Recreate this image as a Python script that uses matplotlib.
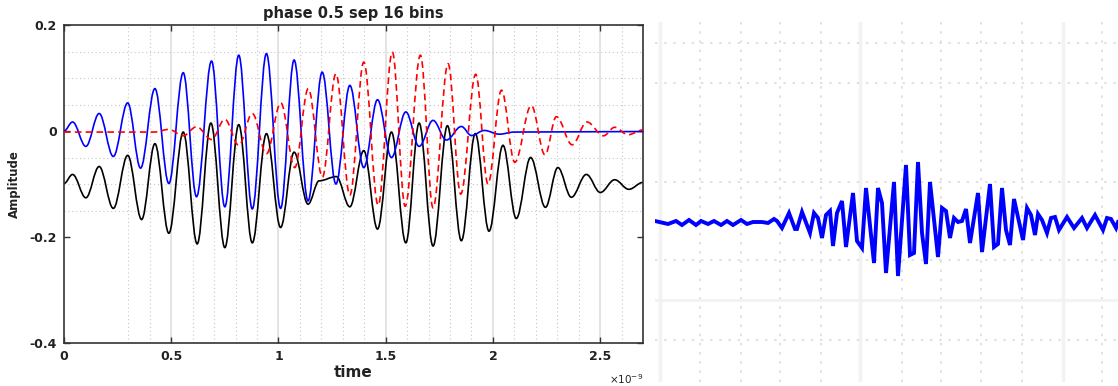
import numpy as np
import matplotlib
matplotlib.use("Agg")
import matplotlib.pyplot as plt
from matplotlib.path import Path
from matplotlib.patches import PathPatch

# ---------------- data ----------------
title = "phase 0.5 sep 16 bins"
x_label = "time"
y_label = "Amplitude"
x_ticks = [0, 0.5, 1, 1.5, 2, 2.5]
x_tick_labels = ["0", "0.5", "1", "1.5", "2", "2.5"]
y_ticks = [-0.4, -0.2, 0, 0.2]
y_tick_labels = ["-0.4", "-0.2", "0", "0.2"]

# blue solid pulse (time in units of 1e-9 s): extrema
blue_t = [0.0, 0.040, 0.102, 0.164, 0.230, 0.297, 0.357, 0.424, 0.489, 0.556,
          0.618, 0.688, 0.750, 0.815, 0.878, 0.944, 1.010, 1.073, 1.138, 1.204,
          1.268, 1.333, 1.398, 1.462, 1.527, 1.594, 1.656, 1.721, 1.783, 1.853,
          1.900, 1.960, 2.030, 2.100, 2.700]
blue_v = [0.0, 0.017, -0.029, 0.033, -0.048, 0.053, -0.070, 0.080, -0.099, 0.110,
          -0.124, 0.132, -0.143, 0.143, -0.147, 0.146, -0.146, 0.134, -0.132, 0.111,
          -0.100, 0.086, -0.069, 0.059, -0.050, 0.036, -0.029, 0.020, -0.017, 0.0085,
          -0.0085, 0.001, -0.006, -0.002, -0.001]

# red dashed pulse: extrema
red_t = [0.0, 0.420, 0.489, 0.556, 0.618, 0.688, 0.750, 0.815, 0.878, 0.944,
         1.011, 1.076, 1.139, 1.205, 1.268, 1.333, 1.398, 1.465, 1.531, 1.591,
         1.662, 1.721, 1.791, 1.850, 1.920, 1.977, 2.040, 2.102, 2.179, 2.243,
         2.296, 2.370, 2.438, 2.516, 2.568, 2.630, 2.700]
red_v = [-0.002, -0.002, 0.003, -0.009, 0.008, -0.016, 0.022, -0.027, 0.033, -0.043,
         0.053, -0.069, 0.080, -0.087, 0.108, -0.121, 0.130, -0.140, 0.149, -0.142,
         0.143, -0.145, 0.127, -0.119, 0.107, -0.100, 0.077, -0.059, 0.048, -0.045,
         0.027, -0.026, 0.017, -0.009, 0.007, -0.007, 0.002]

# black solid (sum, offset -0.1): extrema
black_t = [0.0, 0.040, 0.102, 0.164, 0.230, 0.297, 0.362, 0.424, 0.489, 0.556,
           0.621, 0.685, 0.750, 0.815, 0.878, 0.944, 1.010, 1.073, 1.138, 1.190,
           1.270, 1.333, 1.398, 1.462, 1.527, 1.594, 1.656, 1.721, 1.788, 1.853,
           1.918, 1.982, 2.047, 2.109, 2.176, 2.245, 2.303, 2.366, 2.436, 2.501,
           2.568, 2.634, 2.700]
black_v = [-0.099, -0.082, -0.126, -0.067, -0.146, -0.046, -0.167, -0.024, -0.193, -0.002,
           -0.213, 0.015, -0.220, 0.012, -0.211, -0.005, -0.182, -0.040, -0.138, -0.094,
           -0.086, -0.143, -0.037, -0.185, -0.002, -0.211, 0.015, -0.217, 0.010, -0.207,
           -0.005, -0.189, -0.027, -0.165, -0.050, -0.144, -0.069, -0.125, -0.082, -0.116,
           -0.092, -0.110, -0.097]

# right panel: sampled waveform (sample position, amplitude)
wave_x = [0, 13, 21, 27, 34, 41, 46, 53, 59, 66,
          72, 78, 86, 92, 98, 107, 113, 119, 122, 127,
          134, 140, 142, 147, 155, 159, 163, 167, 171, 175,
          178, 182, 187, 191, 198, 202, 207, 211, 219, 223,
          227, 231, 239, 243, 251, 255, 259, 263, 267, 271,
          275, 283, 287, 291, 295, 299, 303, 307, 311, 315,
          323, 327, 335, 339, 343, 347, 351, 355, 359, 368,
          372, 376, 380, 383, 387, 392, 396, 400, 404, 412,
          419, 427, 432, 440, 448, 452, 456, 461, 463]
wave_y = [0.01, -0.02, 0.01, -0.03, 0.02, -0.03, 0.01, -0.02, 0.01, -0.03,
          0.01, -0.03, 0.02, -0.02, 0.00, 0.00, -0.01, 0.03, 0.01, -0.06,
          0.09, -0.07, -0.07, 0.10, -0.11, 0.09, 0.04, -0.16, 0.07, 0.11,
          -0.24, 0.09, 0.21, -0.25, 0.29, -0.19, -0.26, 0.34, -0.41, 0.34,
          0.19, -0.51, 0.40, -0.54, 0.57, -0.33, -0.31, 0.60, -0.11, -0.42,
          0.40, -0.35, 0.14, 0.11, -0.16, 0.04, 0.00, 0.01, 0.13, -0.21,
          0.29, -0.30, 0.38, -0.25, -0.22, 0.34, -0.08, -0.23, 0.23, -0.18,
          0.14, 0.07, -0.13, 0.08, 0.02, -0.11, 0.04, 0.05, -0.08, 0.05,
          -0.06, 0.04, -0.06, 0.07, -0.08, 0.04, 0.03, -0.06, 0.00]


def smooth_path(ts, vs):
    """Smooth curve through extrema (horizontal tangents at each point)."""
    verts = [(ts[0], vs[0])]
    codes = [Path.MOVETO]
    for i in range(1, len(ts)):
        t0, v0, t1, v1 = ts[i - 1], vs[i - 1], ts[i], vs[i]
        d = (t1 - t0) * 0.3642
        verts += [(t0 + d, v0), (t1 - d, v1), (t1, v1)]
        codes += [Path.CURVE4] * 3
    return Path(verts, codes)


plt.rcParams['font.family'] = ['DejaVu Sans']
W, H = 1118, 386
fig = plt.figure(figsize=(W / 100, H / 100), dpi=100)

# ---------------- left panel ----------------
L, R, T, B = 64, 643, 25, 343
ax = fig.add_axes([L / W, 1 - B / H, (R - L) / W, (B - T) / H])
ax.set_xlim(0, 2.7)
ax.set_ylim(-0.4, 0.2)

for t in np.arange(0.3, 2.65, 0.1):
    if abs(t / 0.5 - round(t / 0.5)) > 1e-6:
        ax.axvline(t, color='#c8c8c8', lw=0.8, ls=(0, (1, 2.5)), zorder=0)
for t in [0.5, 1.0, 1.5, 2.0, 2.5]:
    ax.axvline(t, color='#e2e2e2', lw=1.3, zorder=0)
for v in [0.15, 0.1, 0.05, -0.05, -0.1, -0.15]:
    ax.axhline(v, color='#c8c8c8', lw=0.8, ls=(0, (1, 2.5)), zorder=0)

ax.add_patch(PathPatch(smooth_path(black_t, black_v), fill=False,
                       edgecolor='black', lw=1.2, zorder=2))
ax.add_patch(PathPatch(smooth_path(blue_t, blue_v), fill=False,
                       edgecolor='#0000ff', lw=1.2, zorder=3))
ax.add_patch(PathPatch(smooth_path(red_t, red_v), fill=False,
                       edgecolor='#ff0000', lw=1.2, ls=(0, (4, 2.5)), zorder=4))

ax.set_xticks(x_ticks)
ax.set_xticklabels(x_tick_labels)
ax.set_yticks(y_ticks)
ax.set_yticklabels(y_tick_labels)
ax.tick_params(direction='in', top=True, right=True, length=4, width=1,
               color='#333333', labelsize=9, labelcolor='#222222', pad=5)
for lab in ax.get_xticklabels() + ax.get_yticklabels():
    lab.set_fontweight('bold')
for s in ax.spines.values():
    s.set_color('#333333')
    s.set_linewidth(1.2)

ax.set_title(title, fontsize=10.5, fontweight='bold', color='#222222', pad=5)
ax.set_xlabel(x_label, fontsize=11, fontweight='bold', color='#222222')
ax.xaxis.set_label_coords(0.5, (B - 365) / (B - T))
ax.set_ylabel(y_label, fontsize=8.5, fontweight='bold', color='#222222')
ax.yaxis.set_label_coords((21 - L) / (R - L), 0.5)
fig.text(643 / W, 1 - 379 / H, r"$\times10^{-9}$", fontsize=7.5,
         ha='right', va='center', color='#222222')

# ---------------- right panel ----------------
ax2 = fig.add_axes([655 / W, 1 - 382 / H, (W - 655) / W, (382 - 22) / H])
ax2.set_xlim(0, 463)
ax2.set_ylim(-1.60, 2.00)
for s in ax2.spines.values():
    s.set_visible(False)
ax2.set_xticks([])
ax2.set_yticks([])
for x in [5, 205, 408]:
    ax2.axvline(x, color='#f2f2f2', lw=2.5, zorder=0)
for x in [45, 86, 125, 166, 247, 286, 326, 367, 447]:
    ax2.axvline(x, color='#dcdcdc', lw=1.2, ls=(0, (1.5, 4)), zorder=0)
ax2.axhline(-0.78, color='#f2f2f2', lw=2.0, zorder=0)
for y in [1.79, 1.39, 0.40, -0.38, -1.18]:
    ax2.axhline(y, color='#dcdcdc', lw=1.2, ls=(0, (1.5, 4)), zorder=0)
ax2.plot(wave_x, wave_y, color='#0000ff', lw=2.8, solid_joinstyle='miter', zorder=3)

fig.savefig("out.png", dpi=100)
